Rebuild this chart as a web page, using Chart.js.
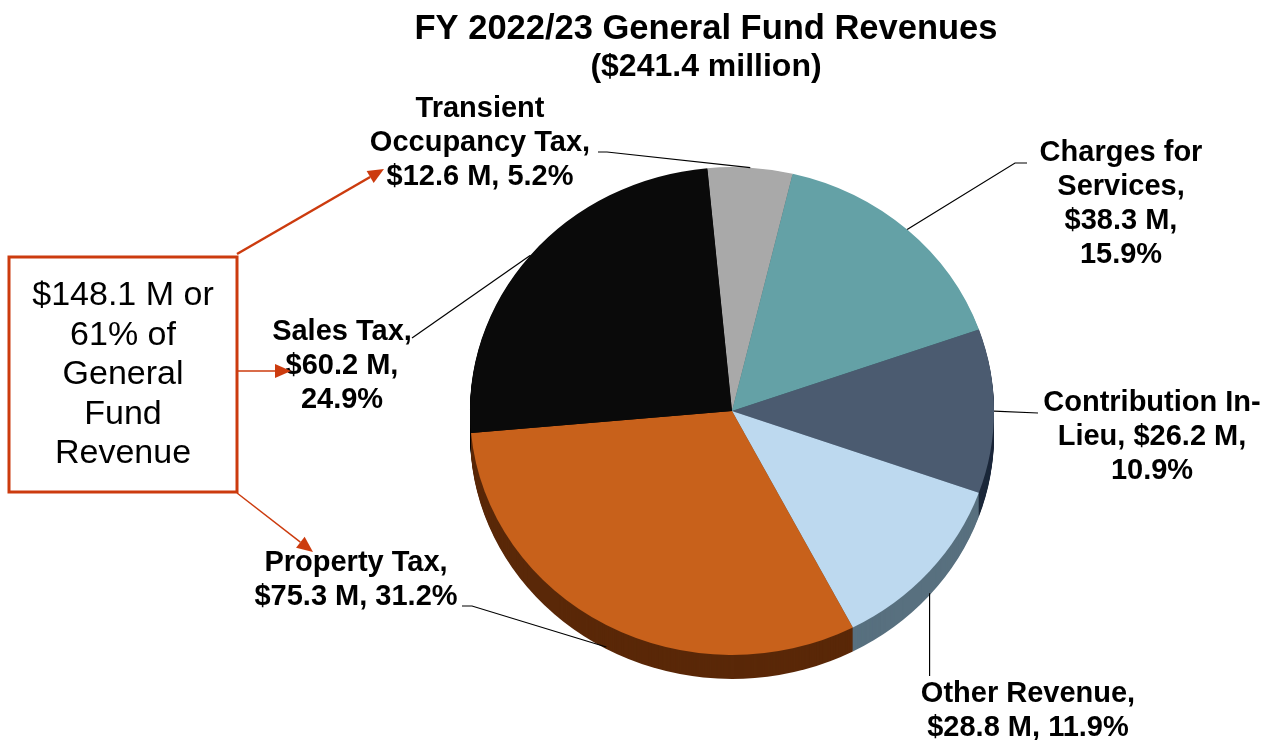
<!DOCTYPE html>
<html>
<head>
<meta charset="utf-8">
<title>FY 2022/23 General Fund Revenues</title>
<script src="https://cdn.jsdelivr.net/npm/chart.js@4/dist/chart.umd.min.js"></script>
<style>
  html, body { margin: 0; padding: 0; background: #ffffff; }
  canvas { display: block; }
</style>
</head>
<body>
<canvas id="revenueChart" width="1267" height="740"></canvas>
<script>
// data
const categories = ["Transient Occupancy Tax", "Charges for Services", "Contribution In-Lieu", "Other Revenue", "Property Tax", "Sales Tax"];
const amounts = [12.6, 38.3, 26.2, 28.8, 75.3, 60.2];
const percents = [5.2, 15.9, 10.9, 11.9, 31.2, 24.9];
const titleLines = ["FY 2022/23 General Fund Revenues", "($241.4 million)"];
const calloutLines = ["$148.1 M or", "61% of", "General", "Fund", "Revenue"];

const topColors = ["#a9a9a9", "#64a1a6", "#4b5b70", "#bdd9ef", "#c8611b", "#0a0a0a"];
const sideColors = ["#6e6e6e", "#3e6c70", "#1c283a", "#58707f", "#5a2808", "#050505"];
const RED = "#cc3b0e";
const SQUASH = 0.931;
const DEPTH = 24;
const LABEL_FONT = "bold 29px 'Liberation Sans', Arial, sans-serif";
const LINE_GAP = 34;

// where each slice label sits and how its leader line runs
const labelLayout = [
  { x: 480, y: 109, lines: ["Transient", "Occupancy Tax,", "{amt}, {pct}"], leader: [[598, 152], [607, 152]] },
  { x: 1121, y: 153, lines: ["Charges for", "Services,", "{amt},", "{pct}"], leader: [[1027, 163], [1015, 163]] },
  { x: 1152, y: 403, lines: ["Contribution In-", "Lieu, {amt},", "{pct}"], leader: [[1038, 413]] },
  { x: 1028, y: 694, lines: ["Other Revenue,", "{amt}, {pct}"], vertical: 676, side: true },
  { x: 356, y: 563, lines: ["Property Tax,", "{amt}, {pct}"], leader: [[462, 606], [472, 606]], side: true },
  { x: 342, y: 332, lines: ["Sales Tax,", "{amt},", "{pct}"], leader: [[412, 338]] }
];

function fillLine(template, i) {
  return template
    .replace("{amt}", "$" + amounts[i].toFixed(1) + " M")
    .replace("{pct}", percents[i].toFixed(1) + "%");
}

function drawArrow(ctx, x1, y1, x2, y2, width) {
  const ang = Math.atan2(y2 - y1, x2 - x1);
  const headLen = 16, headHalf = 7;
  const bx = x2 - headLen * Math.cos(ang);
  const by = y2 - headLen * Math.sin(ang);
  ctx.strokeStyle = RED;
  ctx.fillStyle = RED;
  ctx.lineWidth = width;
  ctx.beginPath();
  ctx.moveTo(x1, y1);
  ctx.lineTo(bx, by);
  ctx.stroke();
  ctx.beginPath();
  ctx.moveTo(x2, y2);
  ctx.lineTo(bx + headHalf * Math.sin(ang), by - headHalf * Math.cos(ang));
  ctx.lineTo(bx - headHalf * Math.sin(ang), by + headHalf * Math.cos(ang));
  ctx.closePath();
  ctx.fill();
}

const pie3d = {
  id: "pie3d",
  beforeDatasetsDraw(chart) {
    const ctx = chart.ctx;
    const arcs = chart.getDatasetMeta(0).data;
    const cx = arcs[0].x, cy = arcs[0].y;

    // side wall: stacked ellipse sectors below the top face
    for (let d = DEPTH; d > 0; d--) {
      arcs.forEach(function (arc, i) {
        ctx.beginPath();
        ctx.moveTo(cx, cy + d);
        ctx.ellipse(cx, cy + d, arc.outerRadius, arc.outerRadius * SQUASH, 0, arc.startAngle, arc.endAngle);
        ctx.closePath();
        ctx.fillStyle = sideColors[i];
        ctx.fill();
      });
    }

    // squash the top face into an ellipse
    ctx.save();
    ctx.translate(cx, cy);
    ctx.scale(1, SQUASH);
    ctx.translate(-cx, -cy);
  },
  afterDatasetsDraw(chart) {
    chart.ctx.restore();
  },
  afterDraw(chart) {
    const ctx = chart.ctx;
    const arcs = chart.getDatasetMeta(0).data;
    const cx = arcs[0].x, cy = arcs[0].y;

    ctx.save();
    ctx.fillStyle = "#000";
    ctx.textAlign = "center";
    ctx.textBaseline = "middle";

    // title
    ctx.font = "bold 34.5px 'Liberation Sans', Arial, sans-serif";
    ctx.fillText(titleLines[0], 706, 29);
    ctx.font = "bold 32px 'Liberation Sans', Arial, sans-serif";
    ctx.fillText(titleLines[1], 706, 67);

    // slice labels + leaders
    labelLayout.forEach(function (lay, i) {
      const arc = arcs[i];
      const mid = (arc.startAngle + arc.endAngle) / 2;
      const ex = cx + arc.outerRadius * Math.cos(mid);
      const ey = cy + arc.outerRadius * SQUASH * Math.sin(mid) + (lay.side ? DEPTH - 2 : 0);

      ctx.strokeStyle = "#000";
      ctx.lineWidth = 1.2;
      ctx.beginPath();
      if (lay.vertical) {
        ctx.moveTo(ex, ey);
        ctx.lineTo(ex, lay.vertical);
      } else {
        ctx.moveTo(lay.leader[0][0], lay.leader[0][1]);
        lay.leader.slice(1).forEach(function (p) { ctx.lineTo(p[0], p[1]); });
        ctx.lineTo(ex, ey);
      }
      ctx.stroke();

      ctx.font = LABEL_FONT;
      lay.lines.forEach(function (t, k) {
        ctx.fillText(fillLine(t, i), lay.x, lay.y + k * LINE_GAP);
      });
    });

    // callout box
    ctx.strokeStyle = RED;
    ctx.lineWidth = 3;
    ctx.strokeRect(9, 257, 228, 235);
    ctx.font = "34px 'Liberation Sans', Arial, sans-serif";
    calloutLines.forEach(function (t, k) {
      ctx.fillText(t, 123, 296 + k * 39.5);
    });

    drawArrow(ctx, 237, 254, 384, 169, 2.5);
    drawArrow(ctx, 238, 371, 291, 371, 1.5);
    drawArrow(ctx, 237, 493, 313, 552, 1.5);
    ctx.restore();
  }
};

new Chart(document.getElementById("revenueChart").getContext("2d"), {
  type: "pie",
  data: {
    labels: categories,
    datasets: [
      {
        data: amounts,
        backgroundColor: topColors,
        borderWidth: 0
      }
    ]
  },
  options: {
    responsive: false,
    animation: false,
    events: [],
    rotation: -5.4,
    layout: {
      padding: { left: 470, right: 273, top: 149, bottom: 67 }
    },
    plugins: {
      legend: { display: false },
      tooltip: { enabled: false }
    }
  },
  plugins: [pie3d]
});
</script>
</body>
</html>
